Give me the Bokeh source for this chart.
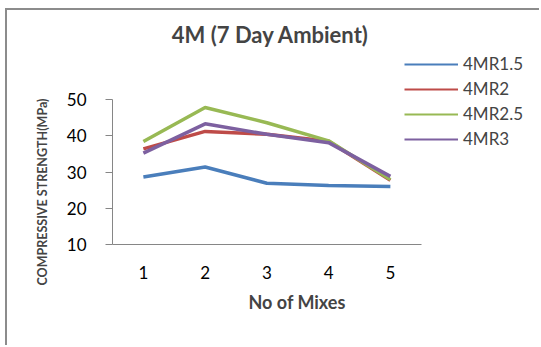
from bokeh.plotting import figure
from bokeh.models import Legend, LegendItem, Title, Label, FixedTicker, Range1d
from bokeh.embed import file_html
from bokeh.resources import INLINE

# ---- data ----
mixes = [1, 2, 3, 4, 5]
mix_labels = {1: "1", 2: "2", 3: "3", 4: "4", 5: "5"}
series_names = ["4MR1.5", "4MR2", "4MR2.5", "4MR3"]
r15 = [28.6, 31.4, 26.9, 26.3, 26.0]
r2 = [36.4, 41.2, 40.4, 38.5, 27.7]
r25 = [38.4, 47.8, 43.6, 38.6, 27.9]
r3 = [35.2, 43.3, 40.4, 38.1, 28.8]
y_ticks = [10, 20, 30, 40, 50]
colors = ["#4a7ebb", "#be4b48", "#98b954", "#7d60a0"]

FONT = "Lato"

p = figure(width=534, height=337, x_range=Range1d(0.5, 7.253), y_range=Range1d(10, 71.8),
           output_backend="svg", toolbar_location=None,
           min_border_left=105, min_border_right=12, min_border_top=10,
           min_border_bottom=103, title=None)
p.styles = {"margin-left": "5px", "margin-top": "8px",
            "border-left": "2px solid #8c8c8c", "border-top": "2px solid #8c8c8c"}
p.outline_line_color = None
p.grid.visible = False
p.background_fill_color = "white"
p.border_fill_color = "white"

items = []
for name, vals, c in zip(series_names, [r15, r2, r25, r3], colors):
    p.line(mixes, vals, line_color=c, line_width=3.5)
    # thin legend key: hidden copy of the series, only used by the legend
    key = p.line(mixes, vals, line_color=c, line_width=2, visible=False)
    items.append(LegendItem(label=name, renderers=[key]))

# axes
p.yaxis.ticker = FixedTicker(ticks=y_ticks)
p.yaxis.bounds = (10, 50)
p.yaxis.axis_line_color = "#868686"
p.yaxis.major_tick_line_color = "#868686"
p.yaxis.major_tick_out = 7
p.yaxis.major_tick_in = 0
p.yaxis.minor_tick_line_color = None
p.yaxis.major_label_standoff = 19
p.yaxis.major_label_text_font = FONT
p.yaxis.major_label_text_font_size = "17px"
p.yaxis.major_label_text_color = "black"

p.xaxis.ticker = FixedTicker(ticks=mixes)
p.xaxis.major_label_overrides = mix_labels
p.xaxis.bounds = (0.5, 5.5)
p.xaxis.axis_line_color = "#868686"
p.xaxis.major_tick_line_color = None
p.xaxis.minor_tick_line_color = None
p.xaxis.major_tick_out = 0
p.xaxis.major_label_standoff = 21
p.xaxis.major_label_text_font = FONT
p.xaxis.major_label_text_font_size = "17px"
p.xaxis.major_label_text_color = "black"

# texts
p.add_layout(Label(x=158, y=210, x_units="screen", y_units="screen",
                   text="4M (7 Day Ambient)", text_font=FONT, text_font_style="bold",
                   text_font_size="22px", text_align="center", text_baseline="middle"))
p.add_layout(Title(text="No of Mixes", text_font=FONT, text_font_style="bold",
                   text_font_size="18px", align="left", offset=136, standoff=15), "below")
p.add_layout(Title(text="COMPRESSIVE STRENGTH(MPa)", text_font=FONT, text_font_style="bold",
                   text_font_size="12.5px", align="left", offset=-41, standoff=28), "left")

legend = Legend(items=items, location=(292, 95), padding=0, margin=0, spacing=4,
                glyph_width=54, glyph_height=20, label_height=20, label_standoff=5,
                label_text_font=FONT, label_text_font_size="17px",
                inactive_fill_alpha=0,
                border_line_color=None, background_fill_alpha=0)
p.add_layout(legend)

open("out.html", "w").write(file_html(p, INLINE))
